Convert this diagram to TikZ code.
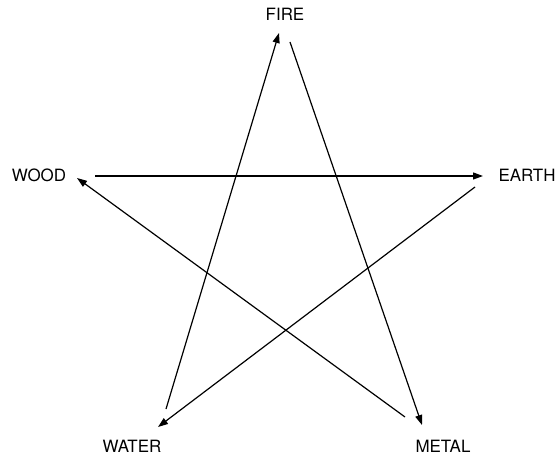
\documentclass[tikz,border=0pt]{standalone}
\usepackage{fontspec}
\setmainfont{TeX Gyre Heros}
\usetikzlibrary{arrows.meta}

\begin{document}
\begin{tikzpicture}[x=1bp, y=-1bp,
		element/.style={font=\fontsize{17}{17}\selectfont, inner sep=0pt},
		link/.style={-{Triangle[length=10bp, width=7bp]}, line width=1.2bp}
		]
		\useasboundingbox (0,0) rectangle (560,459);
		
		% Elements
		\node[element] (fire) at (285, 14) {FIRE};
		\node[element] (wood) at (39, 175) {WOOD};
		\node[element] (earth) at (527, 175) {EARTH};
		\node[element] (water) at (132, 446) {WATER};
		\node[element] (metal) at (443, 446) {METAL};
		
		% Arrow ends near each element
		\coordinate (fire-in) at (279, 33);
		\coordinate (fire-out) at (290, 42);
		\coordinate (wood-in) at (77, 178);
		\coordinate (wood-out) at (95, 176);
		\coordinate (earth-in) at (483, 176);
		\coordinate (earth-out) at (475, 187);
		\coordinate (water-in) at (158, 427);
		\coordinate (water-out) at (166, 409);
		\coordinate (metal-in) at (422, 425);
		\coordinate (metal-out) at (405, 417);
		
		% Star
		\draw[link] (wood-out) -- (earth-in);
		\draw[link] (fire-out) -- (metal-in);
		\draw[link] (earth-out) -- (water-in);
		\draw[link] (water-out) -- (fire-in);
		\draw[link] (metal-out) -- (wood-in);
		
	\end{tikzpicture}
\end{document}
